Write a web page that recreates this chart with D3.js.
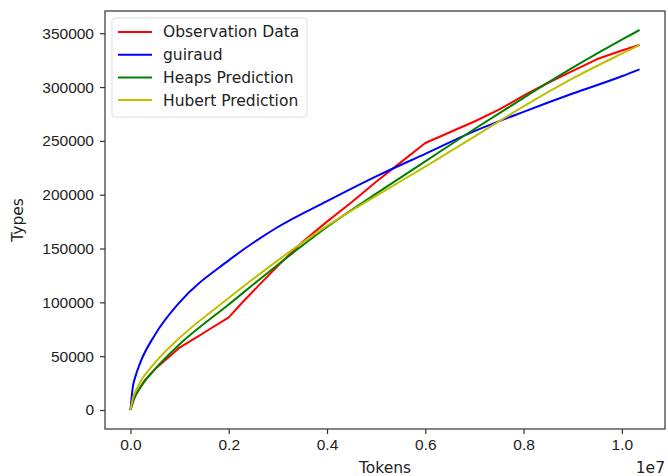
<!DOCTYPE html>
<html>
<head>
<meta charset="utf-8">
<script src="https://cdnjs.cloudflare.com/ajax/libs/d3/7.8.5/d3.min.js"></script>
<style>
  body { margin: 0; background: #fff; }
  svg { font-family: "DejaVu Sans", sans-serif; }
</style>
</head>
<body>
<div id="graf"></div>
<script>
// datos (tokens en unidades de 1e7)
seriesNames = ['Observation Data', 'guiraud', 'Heaps Prediction', 'Hubert Prediction']
seriesColors = ['#ff0000', '#0000ff', '#008000', '#bfbf00']

obsX = [0, 0.01, 0.03, 0.05, 0.08, 0.1, 0.14, 0.15, 0.2, 0.23, 0.27, 0.3, 0.35, 0.4, 0.45, 0.5, 0.55, 0.6, 0.65, 0.7, 0.75, 0.8, 0.85, 0.9, 0.95, 1.0, 1.036]
obsY = [0, 14000, 28000, 38000, 50000, 58000, 69000, 72000, 86000, 101000, 120000, 134000, 156000, 175000, 193000, 212000, 230000, 248000, 258000, 268000, 279000, 292000, 304000, 315000, 326000, 334000, 339000]

predX = [0, 0.005, 0.01, 0.02, 0.05, 0.1, 0.2, 0.3, 0.4, 0.5, 0.6, 0.7, 0.8, 0.9, 1.0, 1.036]
guiraudY = [0, 22000, 31000, 44000, 70000, 100000, 139000, 170000, 194000, 217000, 238000, 259000, 277000, 294000, 310000, 316500]
heapsY   = [0, 8000, 13000, 21000, 38000, 61000, 98000, 135000, 170000, 201000, 231000, 261000, 290000, 318000, 344000, 353000]
hubertY  = [0, 11000, 17000, 26000, 44000, 67000, 104000, 139000, 171000, 199000, 226000, 254000, 282000, 308000, 331000, 339000]

xTicks = [0, 0.2, 0.4, 0.6, 0.8, 1.0]
yTicks = [0, 50000, 100000, 150000, 200000, 250000, 300000, 350000]

ancho_total = 668
alto_total = 476
margins = { top: 11, left: 105, right: 3, bottom: 47 }
ancho = ancho_total - margins.left - margins.right
alto = alto_total - margins.top - margins.bottom

svg = d3.select('#graf').append('svg')
  .attr('width', ancho_total)
  .attr('height', alto_total)

g = svg.append('g')
  .attr('transform', `translate(${margins.left}, ${margins.top})`)

// escalas con margen de 5% como matplotlib
xMax = 1.036
yMax = 353000
x = d3.scaleLinear().domain([-0.05 * xMax, 1.05 * xMax]).range([0, ancho])
y = d3.scaleLinear().domain([-0.05 * yMax, 1.05 * yMax]).range([alto, 0])

// ejes
xAxis = g.append('g')
  .attr('transform', `translate(0, ${alto})`)
  .call(d3.axisBottom(x).tickValues(xTicks).tickFormat(d3.format('.1f')).tickSizeInner(5).tickSizeOuter(0))
yAxis = g.append('g')
  .call(d3.axisLeft(y).tickValues(yTicks).tickFormat(d => d + '').tickSizeInner(5).tickSizeOuter(0))

g.selectAll('.domain').remove()
g.selectAll('.tick line').attr('stroke', '#333').attr('stroke-width', 1.2)
g.selectAll('.tick text').attr('fill', '#222').style('font-size', '15.5px')
xAxis.selectAll('.tick text').attr('dy', '0.71em').attr('y', 10)
yAxis.selectAll('.tick text').attr('x', -11)

// lineas
lineObs = d3.line().x((d, i) => x(obsX[i])).y(d => y(d))
linePred = d3.line().x((d, i) => x(predX[i])).y(d => y(d)).curve(d3.curveMonotoneX)

datos = [
  { path: lineObs(obsY), color: seriesColors[0] },
  { path: linePred(guiraudY), color: seriesColors[1] },
  { path: linePred(heapsY), color: seriesColors[2] },
  { path: linePred(hubertY), color: seriesColors[3] }
]

g.selectAll('path.serie')
  .data(datos)
  .enter()
  .append('path')
    .attr('class', 'serie')
    .attr('d', d => d.path)
    .attr('fill', 'none')
    .attr('stroke', d => d.color)
    .attr('stroke-width', 2)
    .attr('stroke-linejoin', 'round')

// marco
g.append('rect')
  .attr('x', 0).attr('y', 0)
  .attr('width', ancho).attr('height', alto)
  .attr('fill', 'none')
  .attr('stroke', '#333')
  .attr('stroke-width', 1.2)

// leyenda
legend = g.append('g').attr('transform', 'translate(7, 7)')
legend.append('rect')
  .attr('width', 195).attr('height', 99)
  .attr('rx', 3)
  .attr('fill', '#fff').attr('fill-opacity', 0.8)
  .attr('stroke', '#ddd')

items = legend.selectAll('g.item')
  .data(seriesNames)
  .enter()
  .append('g')
    .attr('transform', (d, i) => `translate(0, ${14 + i * 22.7})`)
items.append('line')
  .attr('x1', 6).attr('x2', 40)
  .attr('stroke', (d, i) => seriesColors[i])
  .attr('stroke-width', 2)
items.append('text')
  .attr('x', 51).attr('dy', '0.35em')
  .attr('fill', '#222')
  .style('font-size', '15.5px')
  .text(d => d)

// titulos de ejes
svg.append('text')
  .attr('x', margins.left + ancho / 2)
  .attr('y', 473)
  .attr('text-anchor', 'middle')
  .attr('fill', '#222')
  .style('font-size', '15.5px')
  .text('Tokens')

svg.append('text')
  .attr('x', margins.left + ancho)
  .attr('y', 473)
  .attr('text-anchor', 'end')
  .attr('fill', '#222')
  .style('font-size', '15.5px')
  .text('1e7')

svg.append('text')
  .attr('transform', `translate(23, ${margins.top + alto / 2}) rotate(-90)`)
  .attr('text-anchor', 'middle')
  .attr('fill', '#222')
  .style('font-size', '15.5px')
  .text('Types')
</script>
</body>
</html>
